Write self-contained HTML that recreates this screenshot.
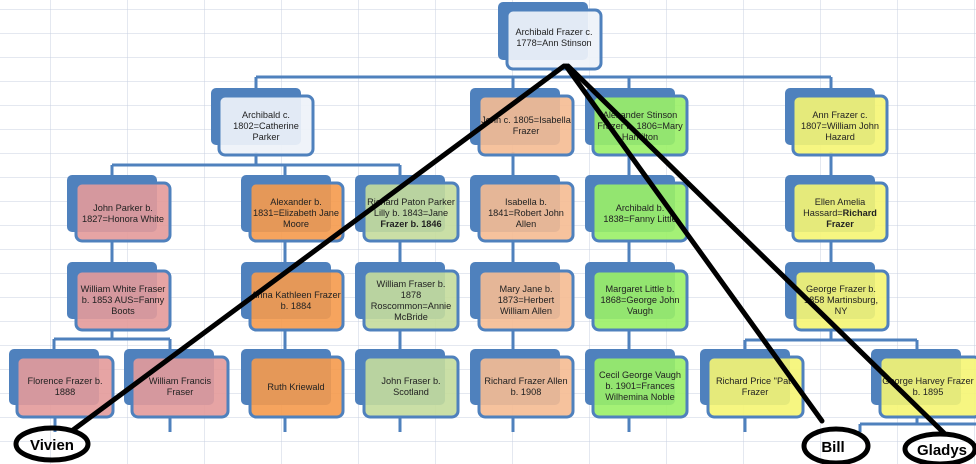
<!DOCTYPE html>
<html><head><meta charset="utf-8"><style>
html,body{margin:0;padding:0;background:#fff;}
svg{display:block;}
text{font-family:"Liberation Sans",sans-serif;font-size:9.2px;fill:#222;text-anchor:middle;}
.b{fill:#4f81bd;}
.f{stroke:#4f81bd;stroke-width:3;}
.c{stroke:#4f81bd;stroke-width:3;fill:none;}
.k{stroke:#000;stroke-width:5;fill:none;stroke-linecap:round;}
</style></head><body>
<svg width="976" height="464" viewBox="0 0 976 464" xmlns="http://www.w3.org/2000/svg">
<defs>
<pattern id="g" width="77" height="24" patternUnits="userSpaceOnUse" x="50" y="9">
<path d="M0 0V24M0 0H77" stroke="#c9d1e2" stroke-width="1" fill="none"/>
</pattern>
</defs>
<rect width="976" height="464" fill="url(#g)"/>

<g class="c">
<path d="M553 68V77M256 77H831M256 77V90M513 77V90M629 77V90M831 77V90"/>
<path d="M256 152V165M112 165H400M112 165V177M285 165V177M400 165V177"/>
<path d="M513 152V177M629 152V177M831 152V177"/>
<path d="M112 240V264M285 240V264M400 240V264M513 240V264M629 240V264M831 240V264"/>
<path d="M112 330V339M54 339H170M54 339V351M170 339V351"/>
<path d="M285 330V351M400 330V351M513 330V351M629 330V351"/>
<path d="M831 330V340M745 340H917M745 340V351M917 340V351"/>
<path d="M55 417V432M170 417V432M285 417V432M400 417V432M513 417V432M629 417V432M745 417V432"/>
<path d="M917 417V424M860 424H976M860 424V432"/>
</g>

<g>
<rect class="b" x="498" y="2" width="90" height="58" rx="5"/>
<rect class="f" x="507" y="10" width="94" height="59" rx="6" fill="#eef2f9" fill-opacity="0.93"/>
<text x="554" y="35">Archibald Frazer c.</text><text x="554" y="46">1778=Ann Stinson</text>

<rect class="b" x="211" y="88" width="90" height="57" rx="5"/>
<rect class="f" x="219" y="96" width="94" height="59" rx="6" fill="#eef2f9" fill-opacity="0.93"/>
<text x="266" y="118">Archibald c.</text><text x="266" y="129">1802=Catherine</text><text x="266" y="140">Parker</text>

<rect class="b" x="470" y="88" width="90" height="57" rx="5"/>
<rect class="f" x="479" y="96" width="94" height="59" rx="6" fill="#f5bb92" fill-opacity="0.9"/>
<text x="526" y="123">John c. 1805=Isabella</text><text x="526" y="134">Frazer</text>

<rect class="b" x="585" y="88" width="90" height="57" rx="5"/>
<rect class="f" x="593" y="96" width="94" height="59" rx="6" fill="#9af067" fill-opacity="0.9"/>
<text x="640" y="118">Alexander Stinson</text><text x="640" y="129">Frazer b. 1806=Mary</text><text x="640" y="140">Hamilton</text>

<rect class="b" x="785" y="88" width="90" height="57" rx="5"/>
<rect class="f" x="793" y="96" width="94" height="59" rx="6" fill="#f5f573" fill-opacity="0.9"/>
<text x="840" y="118">Ann Frazer c.</text><text x="840" y="129">1807=William John</text><text x="840" y="140">Hazard</text>

<rect class="b" x="67" y="175" width="90" height="57" rx="5"/>
<rect class="f" x="76" y="183" width="94" height="58" rx="6" fill="#e39a9a" fill-opacity="0.9"/>
<text x="123" y="211">John Parker b.</text><text x="123" y="222">1827=Honora White</text>

<rect class="b" x="241" y="175" width="90" height="57" rx="5"/>
<rect class="f" x="250" y="183" width="93" height="58" rx="6" fill="#f59a4c" fill-opacity="0.9"/>
<text x="296" y="205">Alexander b.</text><text x="296" y="216">1831=Elizabeth Jane</text><text x="296" y="227">Moore</text>

<rect class="b" x="355" y="175" width="90" height="57" rx="5"/>
<rect class="f" x="364" y="183" width="94" height="58" rx="6" fill="#c4dc9c" fill-opacity="0.9"/>
<text x="411" y="205">Richard Paton Parker</text><text x="411" y="216">Lilly b. 1843=Jane</text><text x="411" y="227" font-weight="bold">Frazer b. 1846</text>

<rect class="b" x="470" y="175" width="90" height="57" rx="5"/>
<rect class="f" x="479" y="183" width="94" height="58" rx="6" fill="#f5bb92" fill-opacity="0.9"/>
<text x="526" y="205">Isabella b.</text><text x="526" y="216">1841=Robert John</text><text x="526" y="227">Allen</text>

<rect class="b" x="585" y="175" width="90" height="57" rx="5"/>
<rect class="f" x="593" y="183" width="94" height="58" rx="6" fill="#9af067" fill-opacity="0.9"/>
<text x="640" y="211">Archibald b.</text><text x="640" y="222">1838=Fanny Little</text>

<rect class="b" x="785" y="175" width="90" height="57" rx="5"/>
<rect class="f" x="793" y="183" width="94" height="58" rx="6" fill="#f5f573" fill-opacity="0.9"/>
<text x="840" y="205">Ellen Amelia</text><text x="840" y="216">Hassard=<tspan font-weight="bold">Richard</tspan></text><text x="840" y="227" font-weight="bold">Frazer</text>

<rect class="b" x="67" y="262" width="90" height="57" rx="5"/>
<rect class="f" x="76" y="271" width="94" height="59" rx="6" fill="#e39a9a" fill-opacity="0.9"/>
<text x="123" y="292">William White Fraser</text><text x="123" y="303">b. 1853 AUS=Fanny</text><text x="123" y="314">Boots</text>

<rect class="b" x="241" y="262" width="90" height="57" rx="5"/>
<rect class="f" x="250" y="271" width="93" height="59" rx="6" fill="#f59a4c" fill-opacity="0.9"/>
<text x="296" y="298">Anna Kathleen Frazer</text><text x="296" y="309">b. 1884</text>

<rect class="b" x="355" y="262" width="90" height="57" rx="5"/>
<rect class="f" x="364" y="271" width="94" height="59" rx="6" fill="#c4dc9c" fill-opacity="0.9"/>
<text x="411" y="287">William Fraser b.</text><text x="411" y="298">1878</text><text x="411" y="309">Roscommon=Annie</text><text x="411" y="320">McBride</text>

<rect class="b" x="470" y="262" width="90" height="57" rx="5"/>
<rect class="f" x="479" y="271" width="94" height="59" rx="6" fill="#f5bb92" fill-opacity="0.9"/>
<text x="526" y="292">Mary Jane b.</text><text x="526" y="303">1873=Herbert</text><text x="526" y="314">William Allen</text>

<rect class="b" x="585" y="262" width="90" height="57" rx="5"/>
<rect class="f" x="593" y="271" width="94" height="59" rx="6" fill="#9af067" fill-opacity="0.9"/>
<text x="640" y="292">Margaret Little b.</text><text x="640" y="303">1868=George John</text><text x="640" y="314">Vaugh</text>

<rect class="b" x="785" y="262" width="90" height="57" rx="5"/>
<rect class="f" x="795" y="271" width="93" height="59" rx="6" fill="#f5f573" fill-opacity="0.9"/>
<text x="841" y="292">George Frazer b.</text><text x="841" y="303">1858 Martinsburg,</text><text x="841" y="314">NY</text>

<rect class="b" x="9" y="349" width="90" height="56" rx="5"/>
<rect class="f" x="17" y="357" width="96" height="60" rx="6" fill="#e39a9a" fill-opacity="0.9"/>
<text x="65" y="384">Florence Frazer b.</text><text x="65" y="395">1888</text>

<rect class="b" x="124" y="349" width="90" height="56" rx="5"/>
<rect class="f" x="132" y="357" width="96" height="60" rx="6" fill="#e39a9a" fill-opacity="0.9"/>
<text x="180" y="384">William Francis</text><text x="180" y="395">Fraser</text>

<rect class="b" x="241" y="349" width="90" height="56" rx="5"/>
<rect class="f" x="250" y="357" width="93" height="60" rx="6" fill="#f59a4c" fill-opacity="0.9"/>
<text x="296" y="390">Ruth Kriewald</text>

<rect class="b" x="355" y="349" width="90" height="56" rx="5"/>
<rect class="f" x="364" y="357" width="94" height="60" rx="6" fill="#c4dc9c" fill-opacity="0.9"/>
<text x="411" y="384">John Fraser b.</text><text x="411" y="395">Scotland</text>

<rect class="b" x="470" y="349" width="90" height="56" rx="5"/>
<rect class="f" x="479" y="357" width="94" height="60" rx="6" fill="#f5bb92" fill-opacity="0.9"/>
<text x="526" y="384">Richard Frazer Allen</text><text x="526" y="395">b. 1908</text>

<rect class="b" x="585" y="349" width="90" height="56" rx="5"/>
<rect class="f" x="593" y="357" width="94" height="60" rx="6" fill="#9af067" fill-opacity="0.9"/>
<text x="640" y="378">Cecil George Vaugh</text><text x="640" y="389">b. 1901=Frances</text><text x="640" y="400">Wilhemina Noble</text>

<rect class="b" x="700" y="349" width="90" height="56" rx="5"/>
<rect class="f" x="708" y="357" width="95" height="60" rx="6" fill="#f5f573" fill-opacity="0.9"/>
<text x="755" y="384">Richard Price "Pat"</text><text x="755" y="395">Frazer</text>

<rect class="b" x="871" y="349" width="90" height="56" rx="5"/>
<rect class="f" x="880" y="357" width="100" height="60" rx="6" fill="#f5f573" fill-opacity="0.9"/>
<text x="928" y="384">George Harvey Frazer</text><text x="928" y="395">b. 1895</text>
</g>

<g class="k">
<path d="M564 66L73 430"/>
<path d="M566 66L822 421"/>
<path d="M568 66L944 433"/>
<ellipse cx="52" cy="444" rx="36" ry="16"/>
<ellipse cx="836" cy="446" rx="32" ry="17"/>
<ellipse cx="940" cy="449" rx="35" ry="15"/>
</g>
<text x="52" y="450" style="font-size:15px;font-weight:bold;fill:#000">Vivien</text>
<text x="833" y="452" style="font-size:15px;font-weight:bold;fill:#000">Bill</text>
<text x="942" y="455" style="font-size:15px;font-weight:bold;fill:#000">Gladys</text>
</svg>
</body></html>
